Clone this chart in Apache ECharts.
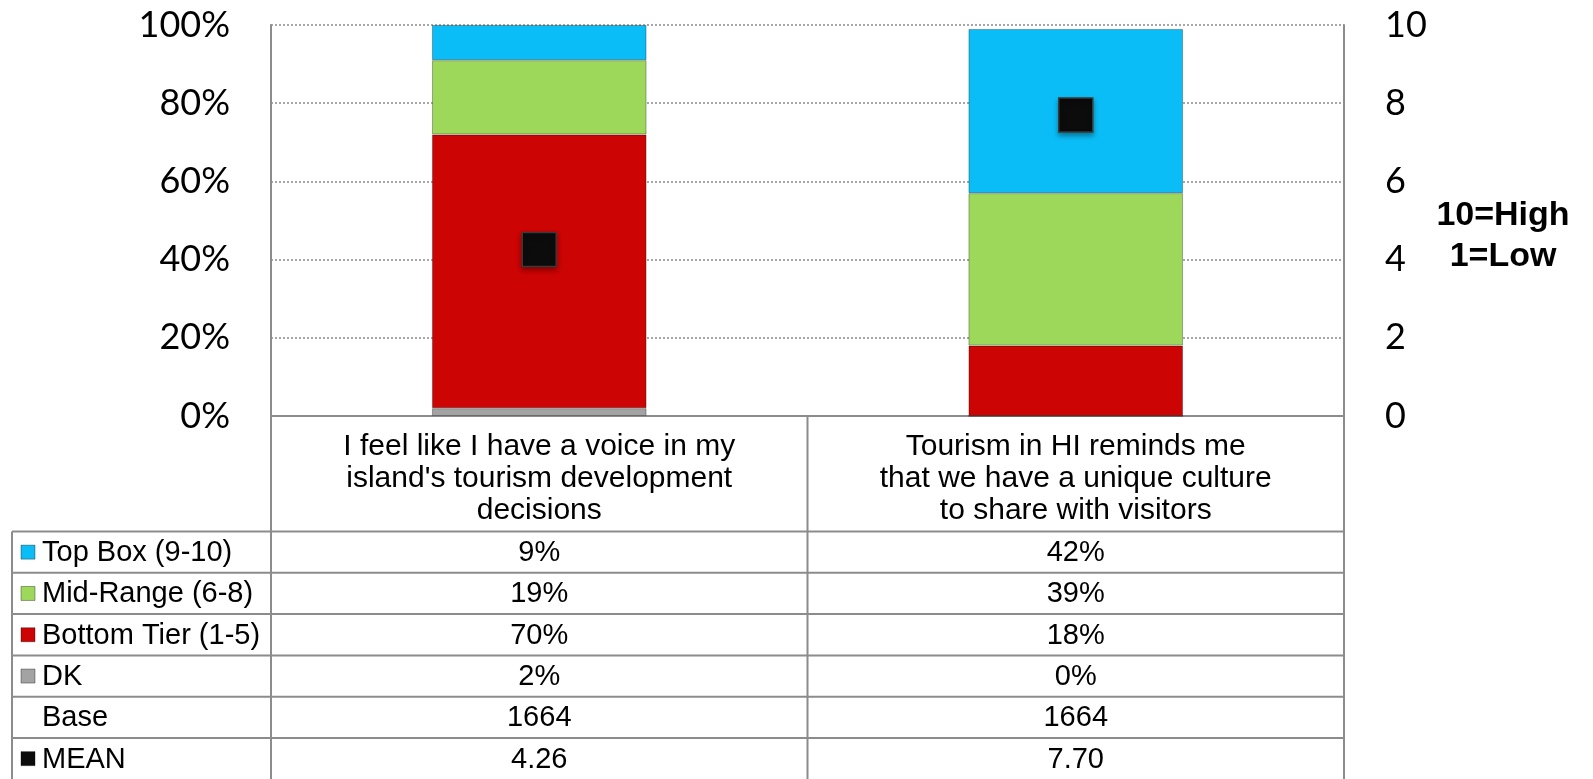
<!DOCTYPE html>
<html>
<head>
<meta charset="utf-8">
<script src="https://cdn.jsdelivr.net/npm/echarts@6/dist/echarts.min.js"></script>
<style>
  html, body { margin: 0; padding: 0; background: #fff; }
  #chart { width: 1593px; height: 779px; }
</style>
</head>
<body>
<div id="chart"></div>
<script>
// data
const categories = [
  'I feel like I have a voice in my\nisland\'s tourism development\ndecisions',
  'Tourism in HI reminds me\nthat we have a unique culture\nto share with visitors'
]
const topBox = [9, 42]
const midRange = [19, 39]
const bottomTier = [70, 18]
const dk = [2, 0]
const base = [1664, 1664]
const mean = [4.26, 7.70]

const colors = {
  top: '#0bbdf6',
  mid: '#9dd85a',
  bottom: '#cc0404',
  dk: '#a3a3a3',
  mean: '#0c0c0c'
}

// layout of plot + table
const plotLeft = 271
const plotRight = 1344
const plotTop = 25
const plotBottom = 416
const headerBottom = 531.5
const rowH = 41.3
const tableLeft = 12
const lineColor = '#8c8c8c'
const tableFont = '29px "Liberation Sans", Arial, sans-serif'

const rows = [
  { name: 'Top Box (9-10)', color: colors.top, vals: topBox.map(v => v + '%') },
  { name: 'Mid-Range (6-8)', color: colors.mid, vals: midRange.map(v => v + '%') },
  { name: 'Bottom Tier (1-5)', color: colors.bottom, vals: bottomTier.map(v => v + '%') },
  { name: 'DK', color: colors.dk, vals: dk.map(v => v + '%') },
  { name: 'Base', color: null, vals: base.map(v => String(v)) },
  { name: 'MEAN', color: colors.mean, vals: mean.map(v => v.toFixed(2)) }
]

const chart = echarts.init(document.getElementById('chart'))

function buildGraphic() {
  const g = []
  const colW = (plotRight - plotLeft) / categories.length
  const mid = plotLeft + colW
  const line = (x1, y1, x2, y2) => ({
    type: 'line',
    shape: { x1, y1, x2, y2 },
    style: { stroke: lineColor, lineWidth: 2 },
    silent: true
  })
  // vertical borders through the table
  g.push(line(plotLeft, plotBottom, plotLeft, 779))
  g.push(line(plotRight, plotBottom, plotRight, 779))
  g.push(line(mid, plotBottom, mid, 779))
  g.push(line(tableLeft, headerBottom, tableLeft, 779))
  // horizontal rules
  g.push(line(tableLeft, headerBottom, plotRight, headerBottom))
  rows.forEach((r, i) => {
    const y0 = headerBottom + rowH * i
    const yc = y0 + rowH / 2
    if (i > 0) g.push(line(tableLeft, y0, plotRight, y0))
    if (r.color) {
      g.push({
        type: 'rect',
        shape: { x: 21, y: yc - 7, width: 14, height: 14 },
        style: { fill: r.color, stroke: 'rgba(0,0,0,0.35)', lineWidth: 1 },
        silent: true
      })
    }
    g.push({
      type: 'text',
      style: {
        text: r.name, x: 42, y: yc + 1,
        font: tableFont, fill: '#000',
        textAlign: 'left', textVerticalAlign: 'middle', align: 'left', verticalAlign: 'middle'
      },
      silent: true
    })
    r.vals.forEach((v, j) => {
      g.push({
        type: 'text',
        style: {
          text: v, x: plotLeft + colW * (j + 0.5), y: yc + 1,
          font: tableFont, fill: '#000',
          textAlign: 'center', textVerticalAlign: 'middle', align: 'center', verticalAlign: 'middle'
        },
        silent: true
      })
    })
  })
  // scale note
  g.push({
    type: 'text',
    style: {
      text: '10=High\n1=Low', x: 1503, y: 236,
      font: 'bold 34px "Liberation Sans", Arial, sans-serif', fill: '#000', lineHeight: 41,
      textAlign: 'center', textVerticalAlign: 'middle', align: 'center', verticalAlign: 'middle'
    },
    silent: true
  })
  return g
}

const barStyle = c => ({
  color: c,
  borderColor: 'rgba(0,0,0,0.3)',
  borderWidth: 1
})

const option = {
  backgroundColor: '#fff',
  animation: false,
  grid: {
    left: plotLeft,
    right: 1593 - plotRight,
    top: plotTop,
    bottom: 779 - plotBottom
  },
  xAxis: {
    type: 'category',
    data: categories,
    axisLine: { show: true, lineStyle: { color: lineColor, width: 2 } },
    axisTick: { show: false },
    axisLabel: {
      margin: 15,
      color: '#000',
      fontFamily: '"Liberation Sans", Arial, sans-serif',
      fontSize: 30,
      lineHeight: 32,
      interval: 0
    }
  },
  yAxis: [
    {
      type: 'value',
      min: 0,
      max: 100,
      interval: 20,
      axisLine: { show: true, lineStyle: { color: lineColor, width: 2 } },
      axisTick: { show: false },
      axisLabel: {
        formatter: '{value}%',
        margin: 41,
        color: '#000',
        fontFamily: 'Lato, "Open Sans", sans-serif',
        fontSize: 36
      },
      splitLine: { show: true, lineStyle: { color: '#8a8a8a', type: [2, 2], width: 1.5 } }
    },
    {
      type: 'value',
      min: 0,
      max: 10,
      interval: 2,
      position: 'right',
      axisLine: { show: true, lineStyle: { color: lineColor, width: 2 } },
      axisTick: { show: false },
      axisLabel: {
        margin: 41,
        color: '#000',
        fontFamily: 'Lato, "Open Sans", sans-serif',
        fontSize: 36
      },
      splitLine: { show: false }
    }
  ],
  series: [
    { name: 'DK', type: 'bar', stack: 'total', barWidth: '40%', data: dk, itemStyle: barStyle(colors.dk) },
    { name: 'Bottom Tier (1-5)', type: 'bar', stack: 'total', data: bottomTier, itemStyle: barStyle(colors.bottom) },
    { name: 'Mid-Range (6-8)', type: 'bar', stack: 'total', data: midRange, itemStyle: barStyle(colors.mid) },
    { name: 'Top Box (9-10)', type: 'bar', stack: 'total', data: topBox, itemStyle: barStyle(colors.top) },
    {
      name: 'MEAN',
      type: 'scatter',
      yAxisIndex: 1,
      data: mean,
      symbol: 'rect',
      symbolSize: 34,
      z: 5,
      itemStyle: {
        color: colors.mean,
        opacity: 1,
        borderColor: '#3a3a3a',
        borderWidth: 1.5,
        shadowBlur: 5,
        shadowOffsetY: 3,
        shadowColor: 'rgba(0,0,0,0.4)'
      }
    }
  ],
  graphic: buildGraphic()
}

chart.setOption(option)
</script>
</body>
</html>
